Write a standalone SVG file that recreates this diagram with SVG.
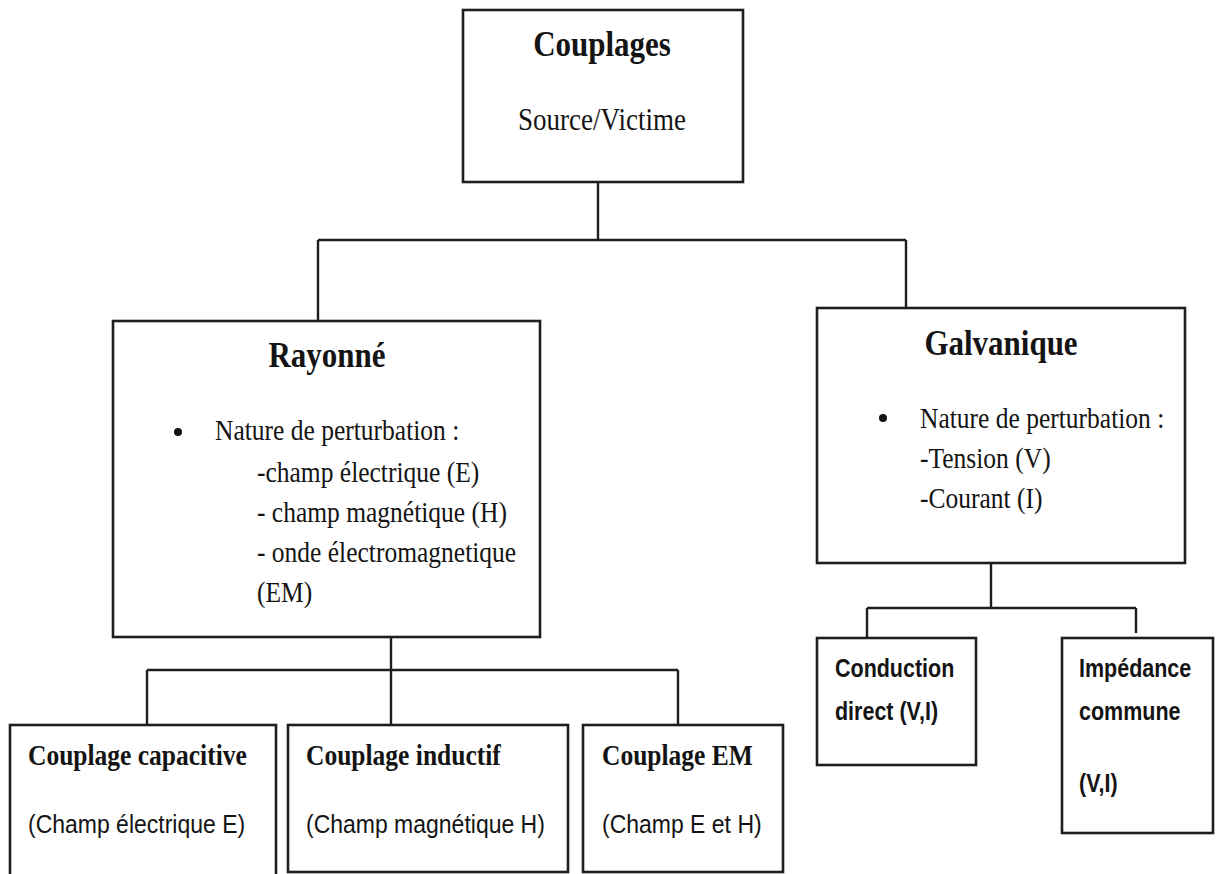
<svg xmlns="http://www.w3.org/2000/svg" width="1217" height="874" viewBox="0 0 1217 874">
<style>
.box{fill:#fff;stroke:#1e1e1e;stroke-width:2.6}
.ln{fill:none;stroke:#1e1e1e;stroke-width:2.4}
.t1{font-family:"Liberation Serif",serif;font-weight:bold;fill:#141414}
.t2{font-family:"Liberation Serif",serif;fill:#141414}
.s1{font-family:"Liberation Sans",sans-serif;fill:#141414}
.s2{font-family:"Liberation Sans",sans-serif;font-weight:bold;fill:#141414}
</style>
<rect width="1217" height="874" fill="#fff"/>
<g id="connectors">
<path class="ln" d="M598 182V240M318 240H906M318 240V321M906 240V308"/>
<path class="ln" d="M391 637V725M147 670H678M147 670V725M678 670V725"/>
<path class="ln" d="M991 563V608M867 608H1136M867 608V638M1136 608V633"/>
</g>
<g id="couplages">
<rect class="box" x="463" y="10" width="280" height="172"/>
<text class="t1" transform="translate(602,56) scale(1,1.17)" font-size="31" text-anchor="middle">Couplages</text>
<text class="t2" transform="translate(602,130) scale(1,1.17)" font-size="27" text-anchor="middle">Source/Victime</text>
</g>
<g id="rayonne">
<rect class="box" x="113" y="321" width="427" height="316"/>
<text class="t1" transform="translate(327,367) scale(1,1.17)" font-size="31" text-anchor="middle">Rayonné</text>
<circle cx="178" cy="432" r="4" fill="#141414"/>
<text class="t2" transform="translate(215,440) scale(1,1.17)" font-size="25.5">Nature de perturbation :</text>
<text class="t2" transform="translate(257,482) scale(1,1.17)" font-size="25.5">-champ électrique (E)</text>
<text class="t2" transform="translate(257,522) scale(1,1.17)" font-size="25.5">- champ magnétique (H)</text>
<text class="t2" transform="translate(257,562) scale(1,1.17)" font-size="25.5">- onde électromagnetique</text>
<text class="t2" transform="translate(257,602) scale(1,1.17)" font-size="25.5">(EM)</text>
</g>
<g id="galvanique">
<rect class="box" x="817" y="308" width="368" height="255"/>
<text class="t1" transform="translate(1001,355) scale(1,1.17)" font-size="31" text-anchor="middle">Galvanique</text>
<circle cx="883" cy="418" r="4" fill="#141414"/>
<text class="t2" transform="translate(920,428) scale(1,1.17)" font-size="25.5">Nature de perturbation :</text>
<text class="t2" transform="translate(920,468) scale(1,1.17)" font-size="25.5">-Tension (V)</text>
<text class="t2" transform="translate(920,508) scale(1,1.17)" font-size="25.5">-Courant (I)</text>
</g>
<g id="capacitive">
<rect class="box" x="10" y="725" width="266" height="160"/>
<text class="t1" transform="translate(28,765) scale(1,1.17)" font-size="25.5">Couplage capacitive</text>
<text class="s1" transform="translate(28,833) scale(1,1.15)" font-size="23">(Champ électrique E)</text>
</g>
<g id="inductif">
<rect class="box" x="288" y="725" width="280" height="147"/>
<text class="t1" transform="translate(306,765) scale(1,1.17)" font-size="25.5">Couplage inductif</text>
<text class="s1" transform="translate(306,833) scale(1,1.15)" font-size="23">(Champ magnétique H)</text>
</g>
<g id="em">
<rect class="box" x="583" y="725" width="200" height="147"/>
<text class="t1" transform="translate(602,765) scale(1,1.17)" font-size="25.5">Couplage EM</text>
<text class="s1" transform="translate(602,833) scale(1,1.15)" font-size="23">(Champ E et H)</text>
</g>
<g id="conduction">
<rect class="box" x="817" y="638" width="159" height="127"/>
<text class="s2" transform="translate(835,677) scale(1,1.17)" font-size="21.5">Conduction</text>
<text class="s2" transform="translate(835,720) scale(1,1.17)" font-size="21.5">direct (V,I)</text>
</g>
<g id="impedance">
<rect class="box" x="1062" y="638" width="151" height="195"/>
<text class="s2" transform="translate(1079,677) scale(1,1.17)" font-size="21.5">Impédance</text>
<text class="s2" transform="translate(1079,720) scale(1,1.17)" font-size="21.5">commune</text>
<text class="s2" transform="translate(1079,792) scale(1,1.17)" font-size="21.5">(V,I)</text>
</g>
</svg>
